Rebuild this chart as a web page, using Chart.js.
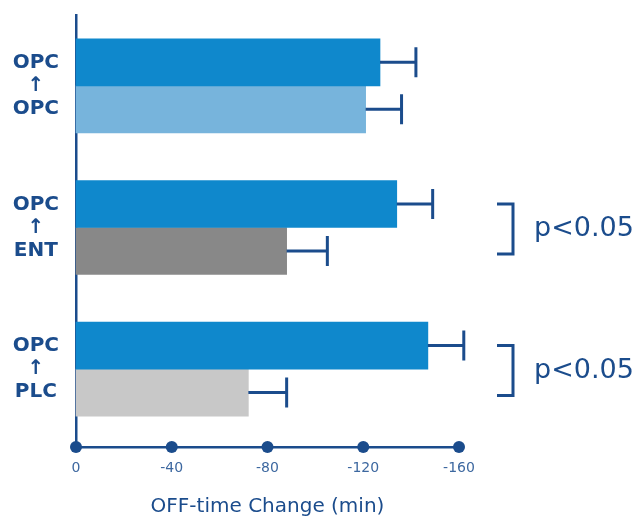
<!DOCTYPE html>
<html>
<head>
<meta charset="utf-8">
<script src="https://cdn.jsdelivr.net/npm/chart.js@4/dist/chart.umd.min.js"></script>
<style>
  html, body { margin: 0; padding: 0; background: #fff; }
  #c { display: block; }
</style>
</head>
<body>
<canvas id="c" width="638" height="518"></canvas>
<script>
// Switch groups: drug before (top line) -> drug after (bottom line)
const groupFrom = ['OPC', 'OPC', 'OPC'];
const groupTo = ['OPC', 'ENT', 'PLC'];

// Mean OFF-time change (min) and error (min)
const opcValues = [-127, -134, -147];
const opcErrors = [15, 15, 15];
const comparatorValues = [-121, -88, -72];
const comparatorErrors = [15, 17, 16];

const significance = ['', 'p<0.05', 'p<0.05'];
const xTickValues = [0, -40, -80, -120, -160];

const NAVY = '#1b4c8c';
const TICK_BLUE = '#3d68a0';

Chart.defaults.font.family = "'DejaVu Sans', sans-serif";

// Error bars, axis dots and significance brackets
const annotations = {
  id: 'annotations',
  afterDatasetsDraw(chart) {
    const ctx = chart.ctx;
    const xs = chart.scales.x;
    ctx.save();
    ctx.strokeStyle = NAVY;
    ctx.lineWidth = 3;
    chart.data.datasets.forEach((ds, di) => {
      const meta = chart.getDatasetMeta(di);
      meta.data.forEach((bar, i) => {
        const v = ds.data[i].x;
        const endX = xs.getPixelForValue(v - ds.errors[i]);
        ctx.beginPath();
        ctx.moveTo(bar.x, bar.y);
        ctx.lineTo(endX, bar.y);
        ctx.moveTo(endX, bar.y - 15);
        ctx.lineTo(endX, bar.y + 15);
        ctx.stroke();
      });
    });
    ctx.restore();
  },
  afterDraw(chart) {
    const ctx = chart.ctx;
    const xs = chart.scales.x;
    const area = chart.chartArea;
    ctx.save();
    // dots on the x axis at each tick
    ctx.fillStyle = NAVY;
    xs.ticks.forEach(t => {
      ctx.beginPath();
      ctx.arc(xs.getPixelForValue(t.value), area.bottom, 6, 0, Math.PI * 2);
      ctx.fill();
    });
    // brackets with p-values
    const topMeta = chart.getDatasetMeta(0);
    const botMeta = chart.getDatasetMeta(1);
    ctx.strokeStyle = NAVY;
    ctx.lineWidth = 3;
    ctx.fillStyle = NAVY;
    ctx.font = "27px 'DejaVu Sans', sans-serif";
    ctx.textAlign = 'left';
    ctx.textBaseline = 'middle';
    significance.forEach((label, i) => {
      if (!label) return;
      const y1 = topMeta.data[i].y;
      const y2 = botMeta.data[i].y + 3;
      const xr = area.right + 54;
      const xl = area.right + 38;
      ctx.beginPath();
      ctx.moveTo(xl, y1);
      ctx.lineTo(xr, y1);
      ctx.lineTo(xr, y2);
      ctx.lineTo(xl, y2);
      ctx.stroke();
      ctx.fillText(label, area.right + 75, (y1 + y2) / 2);
    });
    ctx.restore();
  }
};

new Chart(document.getElementById('c'), {
  type: 'bar',
  data: {
    datasets: [
      {
        label: 'OPC',
        data: opcValues.map((v, i) => ({ x: v, y: i })),
        errors: opcErrors,
        backgroundColor: '#0f88cc',
        barThickness: 47,
        clip: false
      },
      {
        label: 'Comparator',
        data: comparatorValues.map((v, i) => ({ x: v, y: i })),
        errors: comparatorErrors,
        backgroundColor: ['#77b4dc', '#888888', '#c8c8c8'],
        barThickness: 47,
        clip: false
      }
    ]
  },
  options: {
    indexAxis: 'y',
    responsive: false,
    animation: false,
    layout: { padding: { top: 15, right: 179, bottom: 0, left: 0 } },
    plugins: { legend: { display: false }, tooltip: { enabled: false } },
    scales: {
      x: {
        type: 'linear',
        min: -160,
        max: 0,
        reverse: true,
        afterBuildTicks: s => { s.ticks = xTickValues.map(v => ({ value: v })); },
        afterFit: s => { s.paddingLeft = 0; s.paddingRight = 0; s.height = 71; },
        grid: { display: false, drawTicks: false },
        border: { display: true, color: NAVY, width: 2.5 },
        ticks: { color: TICK_BLUE, font: { size: 14 }, padding: 13, maxRotation: 0 },
        title: {
          display: true,
          text: 'OFF-time Change (min)',
          color: NAVY,
          font: { size: 20, lineHeight: 1.1 },
          padding: { top: 15, bottom: 0 }
        }
      },
      y: {
        type: 'linear',
        offset: false,
        bounds: 'data',
        min: -0.5,
        max: 2.55,
        reverse: true,
        afterBuildTicks: s => { s.ticks = groupFrom.map((_, i) => ({ value: i })); },
        afterFit: s => { s.width = 76; s.paddingTop = 0; s.paddingBottom = 0; },
        grid: { display: false, drawTicks: false },
        border: { display: true, color: NAVY, width: 2.5 },
        ticks: {
          crossAlign: 'center',
          padding: 17,
          color: NAVY,
          font: { size: 20, weight: 'bold', lineHeight: 1.15 },
          callback: v => [groupFrom[v], '\u2191', groupTo[v]]
        }
      }
    }
  },
  plugins: [annotations]
});
</script>
</body>
</html>
